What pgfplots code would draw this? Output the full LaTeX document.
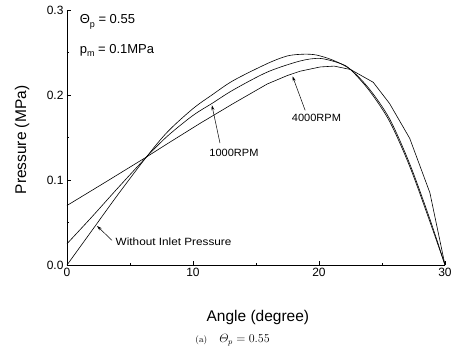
\documentclass[border=0pt]{standalone}
\usepackage{pgfplots}
\pgfplotsset{compat=1.18}
\usepackage{fontspec}
\newfontfamily\arial{Liberation Sans}
\usetikzlibrary{arrows.meta}
\newcommand{\fs}[1]{\fontsize{#1}{#1}\selectfont}
\begin{document}
\begin{tikzpicture}
\begin{axis}[
  scale only axis, width=378pt, height=255pt,
  xmin=0, xmax=30, ymin=0, ymax=0.3,
  axis lines=left, axis line style={-, line width=0.6pt},
  tick align=inside, major tick length=4pt, minor tick length=2.5pt,
  tick style={line width=0.5pt, black},
  xtick={0,10,20,30}, ytick={0,0.1,0.2,0.3},
  yticklabels={0.0,0.1,0.2,0.3},
  minor x tick num=1, minor y tick num=1,
  /pgf/number format/assume math mode=true,
  ticklabel style={font=\arial\fs{12pt}},
  xlabel={Angle (degree)}, ylabel={Pressure (MPa)},
  label style={font=\arial\fs{15.5pt}},
  xlabel style={at={(axis description cs:0.505,-0.204)}, anchor=center},
  ylabel style={at={(axis description cs:-0.119,0.49)}, anchor=center},
  clip=false,
]
% Without inlet pressure
\addplot[black, line width=0.6pt, smooth, tension=0.5] coordinates {
(0,0) (2,0.041) (4,0.082) (6.3,0.127) (8,0.157) (10,0.184) (11.5,0.200)
(13.2,0.217) (15.9,0.237) (17.5,0.246) (18.8,0.248) (19.8,0.247) (21.1,0.241)
(22.5,0.230) (24,0.207) (25.6,0.172) (27.2,0.119) (28.8,0.054) (30,0)};
% 1000RPM
\addplot[black, line width=0.6pt, smooth, tension=0.5] coordinates {
(0,0.025) (2,0.057) (4,0.090) (6.3,0.127) (8,0.152) (10,0.176) (11.5,0.190)
(13.2,0.206) (15.9,0.227) (18.5,0.240) (20.1,0.243) (21.7,0.237)
(22.5,0.230) (24,0.205) (25.6,0.169) (27.2,0.116) (28.8,0.051) (30,0)};
% 4000RPM
\addplot[black, line width=0.6pt] coordinates {
(0,0.070) (3,0.097) (6.3,0.127) (8,0.143) (10.6,0.167) (13.2,0.190)
(15.9,0.213) (17.5,0.223) (18.5,0.228) (20.1,0.233) (21.2,0.234) (22.5,0.230)
(24.3,0.215) (25.6,0.190) (27.2,0.149) (28.8,0.085) (30,0)};

\coordinate (sw) at (rel axis cs:0,0);
\coordinate (ne) at (rel axis cs:1,1);

\node[anchor=west, font=\arial\fs{13pt}, inner sep=0pt] at (axis cs:1.0,0.286)
  {Θ\raisebox{-0.45ex}{\fs{9pt}p} = 0.55};
\node[anchor=west, font=\arial\fs{13pt}, inner sep=0pt] at (axis cs:1.0,0.252)
  {p\raisebox{-0.45ex}{\fs{9pt}m} = 0.1MPa};

\node[font=\arial\fs{10.5pt}, inner sep=0pt, xscale=1.05] at (axis cs:13.25,0.132) {1000RPM};
\node[font=\arial\fs{10.5pt}, inner sep=0pt, xscale=1.05] at (axis cs:19.8,0.173) {4000RPM};
\node[anchor=west, font=\arial\fs{10.5pt}, inner sep=0pt, xscale=1.12] at (axis cs:3.85,0.027) {Without Inlet Pressure};

\draw[-{Stealth[length=5pt,width=3pt]}, line width=0.5pt] (axis cs:12.14,0.1435) -- (axis cs:11.5,0.188);
\draw[-{Stealth[length=5pt,width=3pt]}, line width=0.5pt] (axis cs:18.9,0.182) -- (axis cs:17.9,0.222);
\draw[-{Stealth[length=5pt,width=3pt]}, line width=0.5pt] (axis cs:3.57,0.029) -- (axis cs:2.38,0.046);

\node[font=\fs{12pt}] at (axis description cs:0.438,-0.294)
  {{\fs{9pt}(a)}\quad$\mathnormal{\Theta}_p = 0.55$};
\end{axis}
\pgfresetboundingbox
\path ([shift={(-67pt,-88pt)}]sw) rectangle ([shift={(13pt,10pt)}]ne);
\end{tikzpicture}
\end{document}
